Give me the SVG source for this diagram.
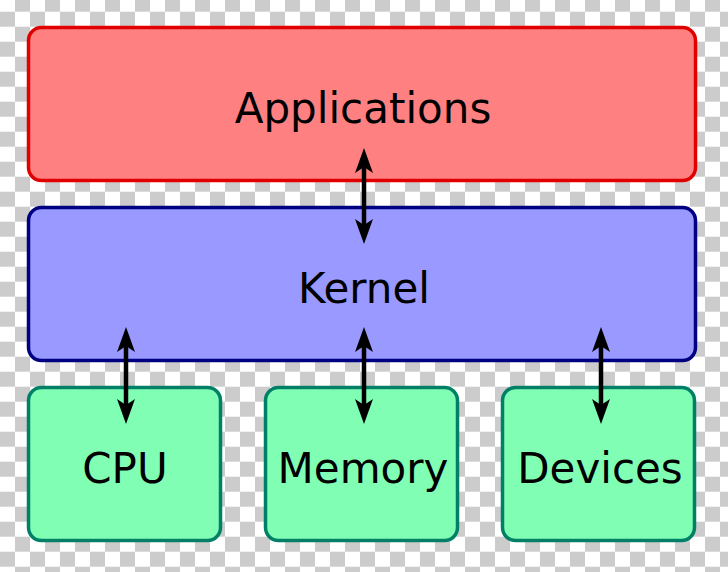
<svg xmlns="http://www.w3.org/2000/svg" width="728" height="572" viewBox="0 0 728 572">
<defs>
<pattern id="chk" x="0" y="-3.3" width="30" height="30" patternUnits="userSpaceOnUse">
<rect width="30" height="30" fill="#ffffff"/>
<rect x="15" y="0" width="15" height="15" fill="#cccccc"/>
<rect x="0" y="15" width="15" height="15" fill="#cccccc"/>
</pattern>
<style>
.lbl{font-family:"DejaVu Sans",sans-serif;font-size:42px;fill:#000;text-anchor:middle}
.app{fill:#ff8080;stroke:#e00000;stroke-width:3.5}
.ker{fill:#9999ff;stroke:#000080;stroke-width:3.5}
.hw{fill:#80ffb4;stroke:#008066;stroke-width:3.5}
.ar{fill:none;stroke:#000;stroke-width:4.5}
.hd{fill:#000}
</style>
</defs>
<rect width="728" height="572" fill="url(#chk)"/>
<g id="applications">
<rect class="app" x="28.5" y="27.5" width="667" height="153" rx="13"/>
<text class="lbl" x="363" y="123">Applications</text>
</g>
<g id="kernel">
<rect class="ker" x="28.5" y="207.5" width="667" height="153" rx="13"/>
<text class="lbl" x="364" y="303">Kernel</text>
</g>
<g id="cpu">
<rect class="hw" x="28.5" y="387.5" width="192" height="153" rx="13"/>
<text class="lbl" x="125" y="483">CPU</text>
</g>
<g id="memory">
<rect class="hw" x="265.5" y="387.5" width="192" height="153" rx="13"/>
<text class="lbl" x="363" y="483">Memory</text>
</g>
<g id="devices">
<rect class="hw" x="502.5" y="387.5" width="192" height="153" rx="13"/>
<text class="lbl" x="600" y="483">Devices</text>
</g>
<g id="connectors">
<line class="ar" x1="364" y1="162" x2="364" y2="231"/>
<path class="hd" d="M364,148 L373,173 L364,167 L355,173 Z"/>
<path class="hd" d="M364,244 L373,219 L364,225 L355,219 Z"/>
<line class="ar" x1="126" y1="340" x2="126" y2="411"/>
<path class="hd" d="M126,327 L135,352 L126,346 L117,352 Z"/>
<path class="hd" d="M126,424 L135,399 L126,405 L117,399 Z"/>
<line class="ar" x1="364" y1="340" x2="364" y2="411"/>
<path class="hd" d="M364,327 L373,352 L364,346 L355,352 Z"/>
<path class="hd" d="M364,424 L373,399 L364,405 L355,399 Z"/>
<line class="ar" x1="601" y1="340" x2="601" y2="411"/>
<path class="hd" d="M601,327 L610,352 L601,346 L592,352 Z"/>
<path class="hd" d="M601,424 L610,399 L601,405 L592,399 Z"/>
</g>
</svg>
